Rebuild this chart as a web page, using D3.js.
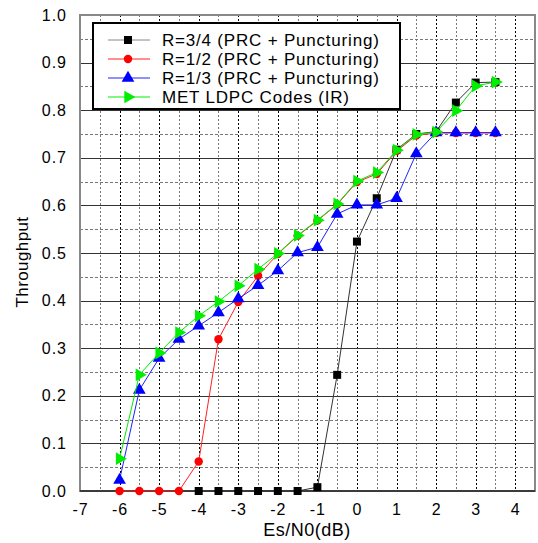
<!DOCTYPE html>
<head>
  <meta charset="utf-8">
  <title>Throughput vs Es/N0</title>
  <style>
    body { margin: 0; background: #fff; }
    text { font-family: "Liberation Sans", Arial, sans-serif; fill: #000; }
  </style>
</head>
<body>
<svg width="538" height="543"></svg>
<script src="https://d3js.org/d3.v7.min.js"></script>
<script>

// x values (Es/N0 in dB) for each curve
var xR34 = [-4, -3.5, -3, -2.5, -2, -1.5, -1, -0.5, 0, 0.5, 1, 1.5, 2, 2.5, 3, 3.5];
var yR34 = [0, 0, 0, 0, 0, 0, 0.008, 0.244, 0.524, 0.615, 0.717, 0.750, 0.755, 0.816, 0.858, 0.859];

var xR12 = [-6, -5.5, -5, -4.5, -4, -3.5, -3, -2.5, -2, -1.5, -1, -0.5, 0, 0.5, 1, 1.5, 2, 2.5, 3, 3.5];
var yR12 = [0, 0, 0, 0, 0.062, 0.319, 0.397, 0.452, 0.498, 0.536, 0.568, 0.602, 0.649, 0.666, 0.714, 0.747, 0.752, 0.752, 0.752, 0.752];

var xR13 = [-6, -5.5, -5, -4.5, -4, -3.5, -3, -2.5, -2, -1.5, -1, -0.5, 0, 0.5, 1, 1.5, 2, 2.5, 3, 3.5];
var yR13 = [0.023, 0.212, 0.279, 0.319, 0.347, 0.375, 0.404, 0.432, 0.463, 0.501, 0.512, 0.582, 0.601, 0.601, 0.615, 0.709, 0.753, 0.753, 0.753, 0.753];

var xMET = [-6, -5.5, -5, -4.5, -4, -3.5, -3, -2.5, -2, -1.5, -1, -0.5, 0, 0.5, 1, 1.5, 2, 2.5, 3, 3.5];
var yMET = [0.068, 0.244, 0.290, 0.333, 0.368, 0.398, 0.431, 0.466, 0.499, 0.537, 0.569, 0.603, 0.651, 0.669, 0.716, 0.749, 0.754, 0.799, 0.851, 0.859];

var seriesNames = ["R=3/4 (PRC + Puncturing)", "R=1/2 (PRC + Puncturing)", "R=1/3 (PRC + Puncturing)", "MET LDPC Codes (IR)"];
var xTickValues = [-7, -6, -5, -4, -3, -2, -1, 0, 1, 2, 3, 4];
var yTickValues = [0, 0.1, 0.2, 0.3, 0.4, 0.5, 0.6, 0.7, 0.8, 0.9, 1.0];

var svg = d3.select("svg");
var pLeft = 80, pRight = 535, pTop = 15, pBottom = 491;

var x = d3.scaleLinear().domain([-7, 4.5]).range([pLeft, pRight]);
var y = d3.scaleLinear().domain([0, 1]).range([pBottom, pTop]);

// grid: vertical dotted lines every 0.5 (integer ones darker)
var vgrid = d3.range(-6.5, 4.5, 0.5);
svg.append("g").selectAll("line").data(vgrid).join("line")
  .attr("x1", function(d) { return Math.round(x(d)) + 0.5; })
  .attr("x2", function(d) { return Math.round(x(d)) + 0.5; })
  .attr("y1", pTop).attr("y2", pBottom)
  .attr("stroke", function(d) { return d % 1 === 0 ? "#000" : "#777"; })
  .attr("stroke-width", 1)
  .attr("stroke-dasharray", "2,2");

// horizontal dashed lines at the odd 0.05 steps
var hminor = d3.range(0.05, 1, 0.1);
svg.append("g").selectAll("line").data(hminor).join("line")
  .attr("x1", pLeft).attr("x2", pRight)
  .attr("y1", function(d) { return Math.round(y(d)) + 0.5; })
  .attr("y2", function(d) { return Math.round(y(d)) + 0.5; })
  .attr("stroke", "#777")
  .attr("stroke-dasharray", "3,2");

// horizontal solid lines at the 0.1 steps
svg.append("g").selectAll("line").data(yTickValues.slice(1, -1)).join("line")
  .attr("x1", pLeft).attr("x2", pRight)
  .attr("y1", function(d) { return Math.round(y(d)) + 0.5; })
  .attr("y2", function(d) { return Math.round(y(d)) + 0.5; })
  .attr("stroke", "#333");

// frame
svg.append("rect")
  .attr("x", pLeft).attr("y", pTop)
  .attr("width", pRight - pLeft).attr("height", pBottom - pTop)
  .attr("fill", "none").attr("stroke", "#888").attr("stroke-width", 2);
svg.append("line")
  .attr("x1", pLeft).attr("x2", pRight).attr("y1", pBottom).attr("y2", pBottom)
  .attr("stroke", "#222").attr("stroke-width", 1.5);

// axes (labels only)
var xAxis = svg.append("g")
  .attr("transform", "translate(0," + pBottom + ")")
  .call(d3.axisBottom(x).tickValues(xTickValues).tickSize(0).tickPadding(13)
    .tickFormat(function(d) { return String(d); }));
xAxis.select(".domain").remove();
xAxis.selectAll("text").style("font-size", "16px").style("letter-spacing", "1px").attr("fill", "#000");

var yAxis = svg.append("g")
  .attr("transform", "translate(" + pLeft + ",0)")
  .call(d3.axisLeft(y).tickValues(yTickValues).tickSize(0).tickPadding(13).tickFormat(d3.format(".1f")));
yAxis.select(".domain").remove();
yAxis.selectAll("text").style("font-size", "16px").style("letter-spacing", "1px").attr("fill", "#000");

svg.append("text")
  .attr("x", 307).attr("y", 536)
  .attr("text-anchor", "middle")
  .style("font-size", "18px")
  .style("letter-spacing", "0.5px")
  .text("Es/N0(dB)");

svg.append("text")
  .attr("transform", "translate(28,262) rotate(-90)")
  .attr("text-anchor", "middle")
  .style("font-size", "17px")
  .style("letter-spacing", "0.4px")
  .text("Throughput");

var series = [
  { xs: xR34, ys: yR34, line: "#333", fill: "#000", shape: d3.symbolSquare, size: 64, rot: 0 },
  { xs: xR12, ys: yR12, line: "#ff2020", fill: "#ff0000", shape: d3.symbolCircle, size: 56, rot: 0 },
  { xs: xR13, ys: yR13, line: "#2020ff", fill: "#0000ff", shape: d3.symbolTriangle, size: 70, rot: 0 },
  { xs: xMET, ys: yMET, line: "#00ee00", fill: "#00ee00", shape: d3.symbolTriangle, size: 70, rot: 90 }
];

var line = d3.line()
  .x(function(d) { return x(d[0]); })
  .y(function(d) { return y(d[1]); });

series.forEach(function(s) {
  var pts = s.xs.map(function(v, i) { return [v, s.ys[i]]; });
  var g = svg.append("g");
  g.append("path").datum(pts)
    .attr("d", line)
    .attr("fill", "none")
    .attr("stroke", s.line)
    .attr("stroke-width", 1);
  g.selectAll("path.m").data(pts).join("path")
    .attr("class", "m")
    .attr("d", d3.symbol().type(s.shape).size(s.size))
    .attr("transform", function(d) { return "translate(" + x(d[0]) + "," + y(d[1]) + ") rotate(" + s.rot + ")"; })
    .attr("fill", s.fill);
});

// legend
var legend = svg.append("g");
legend.append("rect")
  .attr("x", 93).attr("y", 23).attr("width", 307).attr("height", 86)
  .attr("fill", "#fff").attr("stroke", "#000").attr("stroke-width", 2);

var rows = [40, 59, 78, 97];
series.forEach(function(s, i) {
  legend.append("line")
    .attr("x1", 108).attr("x2", 150)
    .attr("y1", rows[i]).attr("y2", rows[i])
    .attr("stroke", i === 0 ? "#888" : s.line).attr("stroke-width", 1);
  legend.append("path")
    .attr("d", d3.symbol().type(s.shape).size(s.size)())
    .attr("transform", "translate(128," + rows[i] + ") rotate(" + s.rot + ")")
    .attr("fill", s.fill);
  legend.append("text")
    .attr("x", 162).attr("y", rows[i] + 6)
    .style("font-size", "17px")
    .style("letter-spacing", "0.8px")
    .text(seriesNames[i]);
});

</script>
</body>
